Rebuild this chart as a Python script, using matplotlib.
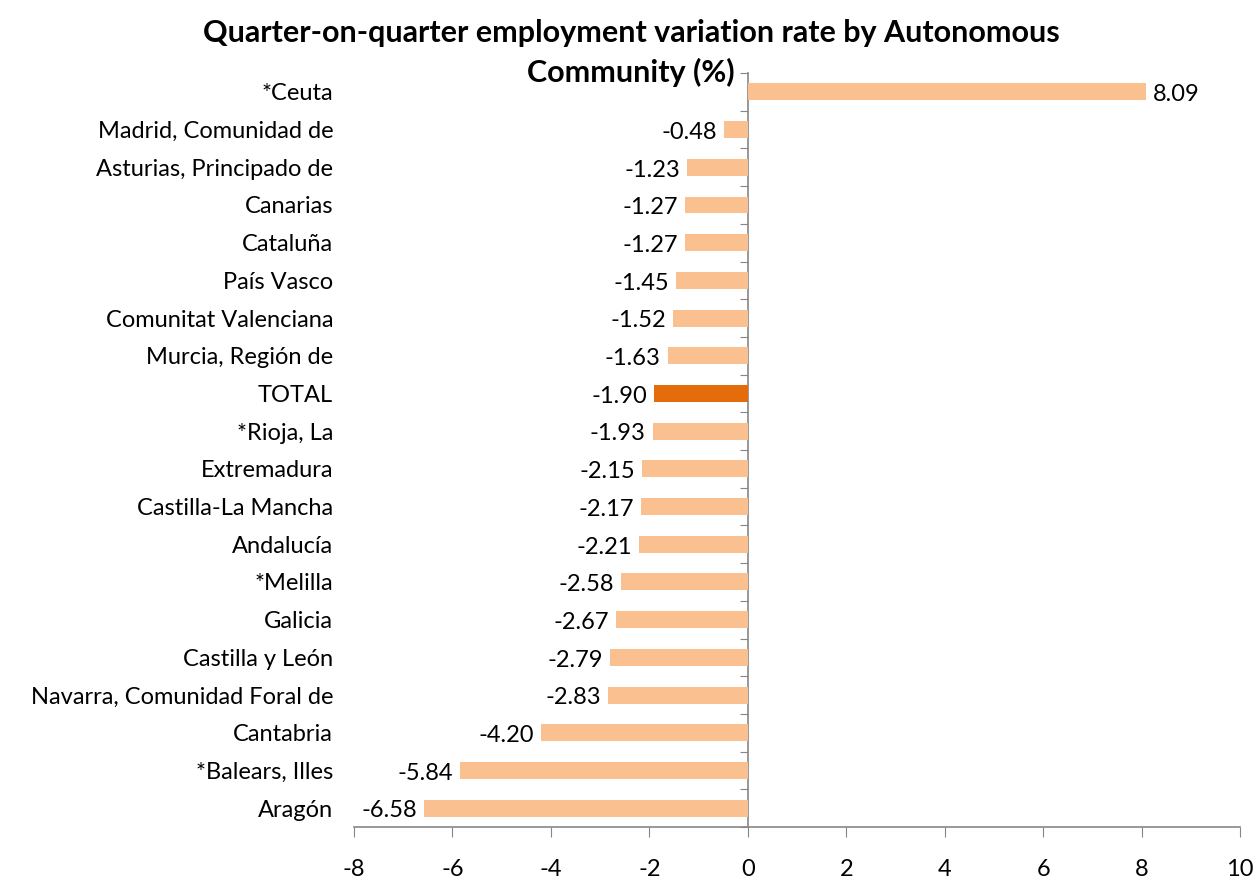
import matplotlib.pyplot as plt
import numpy as np

regions = ["*Ceuta", "Madrid, Comunidad de", "Asturias, Principado de", "Canarias",
           "Cataluña", "País Vasco", "Comunitat Valenciana", "Murcia, Región de",
           "TOTAL", "*Rioja, La", "Extremadura", "Castilla-La Mancha", "Andalucía",
           "*Melilla", "Galicia", "Castilla y León", "Navarra, Comunidad Foral de",
           "Cantabria", "*Balears, Illes", "Aragón"]
rates = [8.09, -0.48, -1.23, -1.27, -1.27, -1.45, -1.52, -1.63, -1.90, -1.93,
         -2.15, -2.17, -2.21, -2.58, -2.67, -2.79, -2.83, -4.20, -5.84, -6.58]
x_ticks = [-8, -6, -4, -2, 0, 2, 4, 6, 8, 10]

plt.rcParams['font.family'] = ['Lato', 'DejaVu Sans']

fig = plt.figure(figsize=(12.57, 8.80), dpi=100)
ax = fig.add_axes([0.2816, 0.0602, 0.7049, 0.8568])

# bottom-to-top order
labels = regions[::-1]
vals = rates[::-1]
pos = np.arange(len(labels))
colors = ["#E46C0A" if l == "TOTAL" else "#FAC090" for l in labels]

ax.barh(pos, vals, height=0.45, color=colors, zorder=2)

for p, v in zip(pos, vals):
    if v >= 0:
        ax.annotate(f"{v:.2f}", (v, p), xytext=(5, -2), textcoords="offset points",
                    ha="left", va="center", fontsize=17)
    else:
        ax.annotate(f"{v:.2f}", (v, p), xytext=(-5, -2), textcoords="offset points",
                    ha="right", va="center", fontsize=17)

ax.set_xlim(-8, 10)
ax.set_ylim(-0.5, len(labels) - 0.5)
ax.set_xticks(x_ticks)
ax.set_xticklabels([str(t) for t in x_ticks], fontsize=17)
ax.set_yticks(pos)
ax.set_yticklabels(labels, fontsize=17)
ax.tick_params(axis="y", length=0, pad=15)
ax.tick_params(axis="x", length=7, color="#868686", pad=16)

for s in ["left", "right", "top"]:
    ax.spines[s].set_visible(False)
ax.spines["bottom"].set_color("#868686")
ax.spines["bottom"].set_linewidth(1.2)

# vertical axis at x = 0 with ticks between categories
sec = ax.secondary_yaxis(8 / 18)
sec.set_yticks(np.arange(len(labels) + 1) - 0.5)
sec.set_yticklabels([])
sec.tick_params(length=6, color="#868686", direction="out")
sec.spines["left"].set_color("#868686")
sec.spines["left"].set_linewidth(1.2)

fig.text(0.502, 0.963, "Quarter-on-quarter employment variation rate by Autonomous",
         ha="center", va="center", fontsize=22, fontweight="bold")
fig.text(0.502, 0.918, "Community (%)", ha="center", va="center",
         fontsize=22, fontweight="bold")

fig.savefig("out.png", dpi=100)
